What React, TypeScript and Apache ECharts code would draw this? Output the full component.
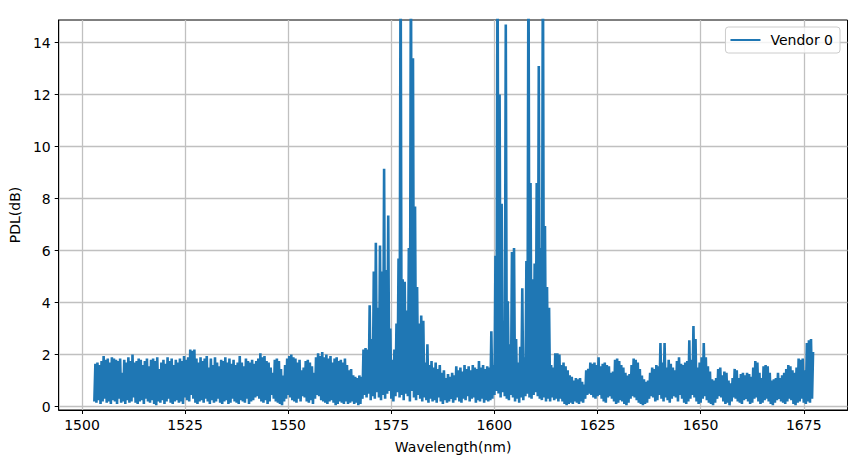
import React, { useEffect, useRef } from "react";
import * as echarts from "echarts";

// Wavelength sampling of the trace (nm)
const startNm = 1503;
const stepNm = 0.5;

// Upper excursions of the PDL trace (dB), one per 0.5 nm from 1503 nm
const highs: number[] = [
  // 1503 - 1568.5
  1.65, 1.7, 1.6, 1.75, 1.95, 1.8, 1.85, 1.7, 1.9, 1.85,
  1.8, 1.75, 1.85, 1.3, 1.8, 1.7, 1.9, 1.75, 2.0, 1.7,
  1.75, 1.85, 1.8, 1.6, 1.75, 1.85, 1.55, 1.8, 1.85, 1.75,
  1.9, 1.45, 1.7, 1.8, 1.65, 1.9, 1.75, 1.85, 1.6, 1.8,
  1.7, 1.85, 1.75, 1.95, 1.8, 1.9, 2.2, 2.15, 2.2, 1.85,
  1.7, 1.9, 1.75, 1.85, 1.95, 1.5, 1.85, 1.6, 1.9, 1.7,
  1.55, 1.8, 1.75, 1.9, 1.7, 1.85, 1.65, 1.8, 1.6, 1.7,
  1.95, 1.7, 1.55, 1.85, 1.75, 1.7, 1.8, 1.65, 1.75, 1.85,
  2.05, 1.9, 1.95, 1.75, 1.7, 1.5, 1.3, 1.8, 1.85, 1.75,
  1.45, 1.2, 1.6, 1.85, 1.95, 2.0, 1.9, 1.85, 1.7, 1.8,
  1.4, 1.5, 1.75, 1.8, 1.7, 1.55, 1.3, 1.9, 2.05, 1.95,
  2.1, 1.9, 2.0, 1.85, 1.95, 1.7, 1.85, 1.9, 1.75, 1.8,
  1.7, 1.85, 1.6, 1.4, 1.45, 1.2, 1.15, 1.1, 1.2, 1.15,
  2.2, 2.25,
  // 1569 - 1598.5
  2.2, 3.9, 2.6, 5.2, 6.3, 3.8, 6.2, 5.2, 9.15, 5.25,
  7.35, 3.0, 1.8, 2.2, 3.2, 5.7, 18, 4.9, 4.8, 3.7,
  6.1, 18, 13.4, 7.7, 4.6, 3.2, 3.5, 3.3, 1.7, 2.4,
  1.6, 1.75, 1.5, 1.7, 1.45, 1.6, 1.3, 1.4, 1.1, 1.25,
  1.15, 1.3, 1.2, 1.55, 1.4, 1.5, 1.35, 1.6, 1.45, 1.55,
  1.4, 1.6, 1.5, 1.45, 1.75, 1.5, 1.6, 1.45, 1.55, 1.5,
  // 1599 - 1615.5
  2.9, 1.6, 5.8, 18, 12, 7.8, 3.3, 14.7, 4.05, 2.4,
  5.95, 6.1, 2.6, 1.7, 2.3, 4.55, 1.9, 5.6, 18, 8.6,
  4.9, 5.5, 8.6, 13.1, 6.1, 18, 6.95, 4.6, 3.8, 1.6,
  1.5, 2.05, 2.05, 2.0,
  // 1616 - 1677
  1.6, 1.7, 1.55, 1.4, 1.2, 1.15, 1.0, 1.1, 1.05, 1.1,
  0.95, 0.85, 1.4, 1.45, 1.7, 1.65, 1.7, 1.6, 1.9, 1.55,
  1.65, 1.7, 1.6, 1.55, 1.3, 1.35, 1.8, 1.85, 1.75, 1.6,
  1.5, 1.3, 1.2, 1.25, 1.6, 1.85, 1.8, 1.7, 1.45, 1.2,
  1.05, 0.95, 1.0, 1.3, 1.5, 1.45, 1.6, 1.55, 2.45, 1.7,
  2.45, 1.5, 1.8, 1.65, 1.5, 1.4, 1.75, 1.9, 1.65, 1.6,
  1.7, 1.75, 2.55, 1.8, 3.1, 2.6, 1.5, 1.7, 1.9, 2.45,
  1.9, 1.55, 1.35, 1.05, 1.0, 1.1, 1.45, 1.5, 1.2, 1.35,
  1.3, 1.0, 0.9, 1.1, 1.45, 1.4, 1.1, 1.25, 1.3, 1.2,
  1.3, 1.25, 1.15, 1.5, 1.75, 1.7, 1.3, 1.1, 1.55, 1.6,
  1.55, 1.3, 1.0, 1.05, 1.1, 1.3, 1.1, 1.2, 1.3, 1.45,
  1.6, 1.55, 1.4, 1.3, 1.5, 1.85, 1.8, 1.85, 1.4, 2.45,
  2.55, 2.6, 2.1,
];

// Lower excursions of the PDL trace (dB), one per 0.5 nm from 1503 nm
const lows: number[] = [
  // 1503 - 1568.5
  0.2, 0.15, 0.25, 0.1, 0.2, 0.3, 0.15, 0.2, 0.1, 0.25,
  0.2, 0.1, 0.3, 0.15, 0.2, 0.1, 0.25, 0.15, 0.2, 0.35,
  0.15, 0.1, 0.2, 0.25, 0.1, 0.3, 0.2, 0.15, 0.25, 0.1,
  0.05, 0.2, 0.15, 0.25, 0.1, 0.2, 0.3, 0.15, 0.1, 0.2,
  0.25, 0.15, 0.2, 0.1, 0.35, 0.25, 0.2, 0.45, 0.3, 0.15,
  0.1, 0.2, 0.25, 0.15, 0.3, 0.2, 0.1, 0.25, 0.15, 0.2,
  0.3, 0.15, 0.1, 0.2, 0.25, 0.1, 0.15, 0.3, 0.2, 0.15,
  0.1, 0.25, 0.2, 0.15, 0.3, 0.1, 0.2, 0.25, 0.35, 0.4,
  0.3, 0.2, 0.15, 0.25, 0.1, 0.2, 0.45, 0.3, 0.2, 0.15,
  0.1, 0.05, 0.2, 0.3, 0.45, 0.35, 0.25, 0.2, 0.15, 0.3,
  0.2, 0.4, 0.35, 0.2, 0.15, 0.25, 0.1, 0.3, 0.45, 0.4,
  0.25, 0.2, 0.15, 0.1, 0.2, 0.25, 0.15, 0.05, 0.1, 0.2,
  0.15, 0.1, 0.2, 0.1, 0.15, 0.2, 0.1, 0.15, 0.05, 0.1,
  0.3, 0.45,
  // 1569 - 1598.5
  0.35, 0.5, 0.25, 0.4, 0.3, 0.55, 0.35, 0.25, 0.45, 0.3,
  0.5, 0.6, 0.3, 0.2, 0.4, 0.55, 0.35, 0.45, 0.25, 0.5,
  0.4, 0.2, 0.6, 0.35, 0.25, 0.45, 0.3, 0.2, 0.35, 0.25,
  0.15, 0.3, 0.2, 0.25, 0.15, 0.35, 0.2, 0.1, 0.25, 0.15,
  0.2, 0.3, 0.15, 0.25, 0.35, 0.2, 0.15, 0.3, 0.25, 0.4,
  0.2, 0.3, 0.35, 0.15, 0.25, 0.2, 0.3, 0.15, 0.25, 0.2,
  // 1599 - 1615.5
  0.25, 0.3, 0.45, 0.6, 0.5, 0.35, 0.55, 0.4, 0.3, 0.25,
  0.45, 0.35, 0.2, 0.3, 0.15, 0.35, 0.25, 0.4, 0.5, 0.35,
  0.3, 0.45, 0.55, 0.4, 0.3, 0.25, 0.35, 0.2, 0.3, 0.2,
  0.35, 0.25, 0.3, 0.2,
  // 1616 - 1677
  0.3, 0.2, 0.1, 0.05, 0.1, 0.15, 0.1, 0.2, 0.15, 0.1,
  0.2, 0.15, 0.3, 0.45, 0.5, 0.45, 0.35, 0.3, 0.4, 0.45,
  0.3, 0.2, 0.15, 0.35, 0.4, 0.3, 0.2, 0.1, 0.15, 0.25,
  0.2, 0.1, 0.05, 0.15, 0.3, 0.4, 0.35, 0.25, 0.15, 0.1,
  0.05, 0.1, 0.15, 0.3, 0.4, 0.35, 0.2, 0.25, 0.45, 0.3,
  0.2, 0.35, 0.25, 0.15, 0.3, 0.4, 0.35, 0.2, 0.45, 0.3,
  0.15, 0.1, 0.2, 0.3, 0.45, 0.35, 0.2, 0.1, 0.15, 0.3,
  0.4, 0.25, 0.15, 0.1, 0.05, 0.15, 0.3, 0.4, 0.35, 0.2,
  0.1, 0.15, 0.05, 0.2, 0.35, 0.3, 0.2, 0.15, 0.1, 0.25,
  0.3, 0.2, 0.1, 0.15, 0.3, 0.35, 0.2, 0.1, 0.15, 0.25,
  0.3, 0.2, 0.1, 0.05, 0.15, 0.25, 0.3, 0.2, 0.15, 0.1,
  0.2, 0.3, 0.25, 0.1, 0.05, 0.15, 0.2, 0.3, 0.15, 0.1,
  0.2, 0.15, 0.3,
];

const xTicks = [1500, 1525, 1550, 1575, 1600, 1625, 1650, 1675];
const yTicks = [0, 2, 4, 6, 8, 10, 12, 14];
const seriesName = "Vendor 0";

export default function App() {
  const ref = useRef<HTMLDivElement>(null);

  useEffect(() => {
    document.body.style.margin = "0";
    if (!ref.current) return;
    const chart = echarts.init(ref.current, undefined, { renderer: "svg" });

    const n = Math.min(highs.length, lows.length);
    const points: [number, number][] = [];
    for (let i = 0; i < n; i++) {
      const x = startNm + stepNm * i;
      points.push([x, lows[i]]);
      points.push([x + stepNm / 2, highs[i]]);
    }

    const font = "DejaVu Sans";
    const plain = (v: number) => String(v);
    chart.setOption({
      animation: false,
      textStyle: { fontFamily: font },
      grid: {
        left: 53,
        right: 10.5,
        top: 20,
        bottom: 46,
        containLabel: false,
        show: true,
        borderColor: "#000",
        borderWidth: 1,
        backgroundColor: "transparent",
      },
      legend: {
        show: true,
        data: [{ name: seriesName, icon: "path://M0,0L30,0L30,2L0,2Z" }],
        right: 18,
        top: 27,
        orient: "vertical",
        padding: [5, 7, 5, 5],
        itemWidth: 30,
        itemHeight: 2,
        backgroundColor: "rgba(255,255,255,0.8)",
        borderColor: "#cccccc",
        borderWidth: 1,
        borderRadius: 3,
        textStyle: {
          fontFamily: font,
          fontSize: 14,
          color: "#000",
          padding: [0, 0, 0, 5],
          lineHeight: 16,
        },
      },
      xAxis: {
        type: "value",
        min: 1494.36,
        max: 1685.6,
        name: "Wavelength(nm)",
        nameLocation: "middle",
        nameGap: 30,
        nameTextStyle: { fontFamily: font, fontSize: 14, color: "#000" },
        axisLine: { show: true, onZero: false, lineStyle: { color: "#000", width: 1 } },
        axisTick: {
          show: true,
          inside: false,
          length: 4,
          customValues: xTicks,
          lineStyle: { color: "#000", width: 1 },
        },
        axisLabel: {
          show: true,
          margin: 8,
          customValues: xTicks,
          formatter: plain,
          fontFamily: font,
          fontSize: 14,
          color: "#000",
        },
        splitLine: { show: true, lineStyle: { color: "#c0c0c0", width: 1.3 } },
      },
      yAxis: {
        type: "value",
        min: -0.13,
        max: 14.87,
        name: "PDL(dB)",
        nameLocation: "middle",
        nameGap: 33,
        nameRotate: 90,
        nameTextStyle: { fontFamily: font, fontSize: 14, color: "#000" },
        axisLine: { show: true, onZero: false, lineStyle: { color: "#000", width: 1 } },
        axisTick: {
          show: true,
          inside: false,
          length: 4,
          customValues: yTicks,
          lineStyle: { color: "#000", width: 1 },
        },
        axisLabel: {
          show: true,
          margin: 8,
          customValues: yTicks,
          formatter: plain,
          fontFamily: font,
          fontSize: 14,
          color: "#000",
        },
        splitLine: { show: true, lineStyle: { color: "#c0c0c0", width: 1.3 } },
      },
      series: [
        {
          name: seriesName,
          type: "line",
          data: points,
          symbol: "none",
          showSymbol: false,
          clip: true,
          lineStyle: { color: "#1f77b4", width: 2.6 },
          itemStyle: { color: "#1f77b4" },
        },
      ],
    });

    return () => chart.dispose();
  }, []);

  return <div ref={ref} style={{ width: 858, height: 459 }} />;
}
